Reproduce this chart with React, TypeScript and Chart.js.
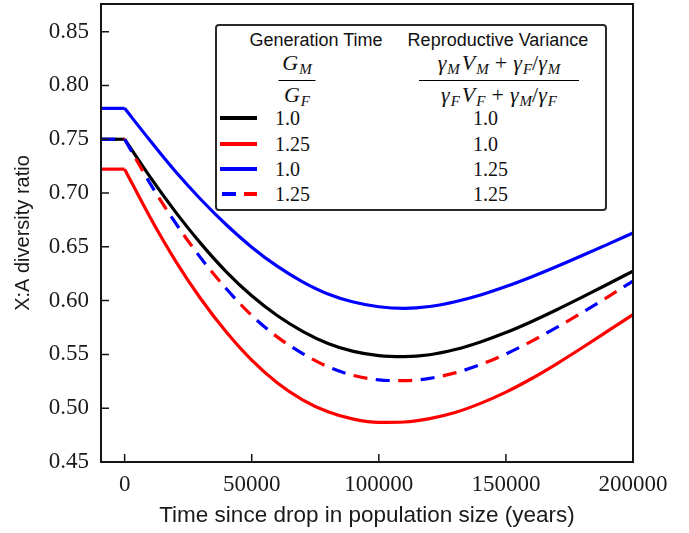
import React, { useEffect, useRef } from "react";
import { Chart, registerables } from "chart.js";
Chart.register(...registerables);

// Time since drop (years); first point is the pre-drop level at the left edge
const timeYears = [-9300, 0, 10000, 20000, 30000, 40000, 50000, 60000, 70000, 80000, 90000, 100000, 110000, 120000, 130000, 140000, 150000, 160000, 170000, 180000, 190000, 200000];
const xTickValues = [0, 50000, 100000, 150000, 200000];
const yTickValues = [0.45, 0.5, 0.55, 0.6, 0.65, 0.7, 0.75, 0.8, 0.85];

// G ratio 1.0, V ratio 1.0
const seriesBlack = [0.75, 0.75, 0.715, 0.6825, 0.653, 0.6268, 0.6045, 0.5862, 0.5715, 0.5602, 0.5528, 0.5489, 0.548, 0.5497, 0.5545, 0.5616, 0.5703, 0.5804, 0.5915, 0.6032, 0.6152, 0.6274];
// G ratio 1.25, V ratio 1.0
const seriesRed = [0.7222, 0.7222, 0.6775, 0.637, 0.6015, 0.5708, 0.5447, 0.5237, 0.5078, 0.4966, 0.4898, 0.4868, 0.4872, 0.4903, 0.496, 0.5045, 0.515, 0.5274, 0.5413, 0.5562, 0.5716, 0.5871];
// G ratio 1.0, V ratio 1.25
const seriesBlue = [0.7787, 0.7787, 0.7488, 0.72, 0.694, 0.6705, 0.6497, 0.632, 0.6175, 0.6062, 0.5987, 0.5943, 0.5928, 0.5945, 0.599, 0.6053, 0.6131, 0.622, 0.6317, 0.6419, 0.6523, 0.6629];
// G ratio 1.25, V ratio 1.25 (dashed blue/red)
const seriesDashed = [0.75, 0.75, 0.709, 0.6722, 0.6395, 0.611, 0.5862, 0.5663, 0.5508, 0.5385, 0.5305, 0.5264, 0.5256, 0.5278, 0.5328, 0.5405, 0.5504, 0.5621, 0.5751, 0.5889, 0.6033, 0.6182];

const legendGen = ["1.0", "1.25", "1.0", "1.25"];
const legendVar = ["1.0", "1.0", "1.25", "1.25"];

const X_MIN = -9300;
const X_MAX = 200000;
const Y_MIN = 0.45;
const Y_MAX = 0.8757;

const pts = (arr: number[], from: number, to: number) =>
  timeYears.slice(from, to).map((x, i) => ({ x, y: arr[from + i] }));

function makeCurve(arr: number[], color: string, extra: any = {}, order = 1) {
  return [
    { data: pts(arr, 0, 2), borderColor: color, borderWidth: 3.2, pointRadius: 0, tension: 0, order, ...extra },
    { data: pts(arr, 1, arr.length), borderColor: color, borderWidth: 3.2, pointRadius: 0, cubicInterpolationMode: "monotone", order, ...extra },
  ];
}

const framePlugin = {
  id: "frame",
  afterDatasetsDraw(chart: any) {
    const { ctx, chartArea, scales } = chart;
    const { left, right, top, bottom } = chartArea;
    ctx.save();
    ctx.strokeStyle = "#151515";
    ctx.lineWidth = 1.5;
    ctx.beginPath();
    scales.x.ticks.forEach((t: any) => {
      const px = scales.x.getPixelForValue(t.value);
      ctx.moveTo(px, bottom);
      ctx.lineTo(px, bottom - 8);
    });
    scales.y.ticks.forEach((t: any) => {
      const py = scales.y.getPixelForValue(t.value);
      ctx.moveTo(left, py);
      ctx.lineTo(left + 8, py);
    });
    ctx.stroke();
    ctx.lineWidth = 2;
    ctx.strokeRect(left, top, right - left, bottom - top);
    ctx.restore();
  },
};

const mathFont = "'Liberation Serif', serif";
const sub = (s: string) => (
  <span style={{ fontSize: 15, fontStyle: "italic", position: "relative", top: 4, marginLeft: 1 }}>{s}</span>
);
const it = (s: string) => <span style={{ fontStyle: "italic" }}>{s}</span>;

function Frac({ num, den, width }: { num: any; den: any; width: number }) {
  return (
    <div style={{ display: "flex", flexDirection: "column", alignItems: "center", fontFamily: mathFont, fontSize: 22, lineHeight: "22px", whiteSpace: "nowrap" }}>
      <div>{num}</div>
      <div style={{ width, borderTop: "1.5px solid #000", margin: "4px 0 3px 0" }} />
      <div>{den}</div>
    </div>
  );
}

const sampleColors = ["#000000", "#ff0000", "#0000ff"];

export default function App() {
  const canvasRef = useRef<HTMLCanvasElement | null>(null);

  useEffect(() => {
    const canvas = canvasRef.current!;
    const datasets: any[] = [
      ...makeCurve(seriesDashed, "#0000ff", { borderDash: [14, 31], borderDashOffset: 0 }, 0),
      ...makeCurve(seriesDashed, "#ff0000", { borderDash: [14, 31], borderDashOffset: 22.5 }, 0),
      ...makeCurve(seriesBlack, "#000000"),
      ...makeCurve(seriesRed, "#ff0000"),
      ...makeCurve(seriesBlue, "#0000ff"),
    ];
    const chart = new Chart(canvas, {
      type: "line",
      data: { datasets },
      plugins: [framePlugin],
      options: {
        responsive: false,
        animation: false,
        devicePixelRatio: 1,
        layout: { padding: { left: 0, right: 56, top: 4, bottom: 0 } },
        plugins: { legend: { display: false }, tooltip: { enabled: false } },
        scales: {
          x: {
            type: "linear",
            min: X_MIN,
            max: X_MAX,
            grid: { display: false, drawTicks: false },
            border: { display: false },
            afterBuildTicks: (s: any) => {
              s.ticks = xTickValues.map((v) => ({ value: v }));
            },
            afterFit: (s: any) => {
              s.height = 71;
              s.paddingLeft = 0;
              s.paddingRight = 0;
            },
            ticks: {
              padding: 9,
              color: "#1a1a1a",
              font: { family: "'Liberation Serif', serif", size: 23 },
              maxRotation: 0,
              autoSkip: false,
              callback: (v: any) => String(v),
            },
            title: {
              display: true,
              text: "Time since drop in population size (years)",
              color: "#1a1a1a",
              font: { family: "'Liberation Sans', sans-serif", size: 22.5 },
              padding: { top: 0, bottom: 4 },
            },
          },
          y: {
            type: "linear",
            min: Y_MIN,
            max: Y_MAX,
            grid: { display: false, drawTicks: false },
            border: { display: false },
            afterBuildTicks: (s: any) => {
              s.ticks = yTickValues.map((v) => ({ value: v }));
            },
            afterFit: (s: any) => {
              s.width = 101;
              s.paddingTop = 0;
              s.paddingBottom = 0;
            },
            ticks: {
              padding: 12,
              color: "#1a1a1a",
              font: { family: "'Liberation Serif', serif", size: 23 },
              autoSkip: false,
              callback: (v: any) => Number(v).toFixed(2),
            },
            title: {
              display: true,
              text: "X:A diversity ratio",
              color: "#1a1a1a",
              font: { family: "'Liberation Sans', sans-serif", size: 20 },
              padding: { top: 11, bottom: 0 },
            },
          },
        },
      },
    });
    return () => chart.destroy();
  }, []);

  const rowY = [94, 120, 145, 170];

  return (
    <div style={{ position: "absolute", left: 0, top: 0, width: 689, height: 533, background: "#fff" }}>
      <canvas ref={canvasRef} width={689} height={533} style={{ position: "absolute", left: 0, top: 0, width: 689, height: 533 }} />
      <div
        style={{
          position: "absolute",
          left: 215,
          top: 24,
          width: 392,
          height: 187,
          boxSizing: "border-box",
          border: "2px solid #2a2a2a",
          borderRadius: 4,
          background: "#fff",
          color: "#111",
        }}
      >
        <div style={{ position: "absolute", left: 101 - 2, top: 16 - 2, transform: "translate(-50%,-50%)", fontFamily: "'Liberation Sans', sans-serif", fontSize: 18, whiteSpace: "nowrap" }}>
          Generation Time
        </div>
        <div style={{ position: "absolute", left: 283 - 2, top: 16 - 2, transform: "translate(-50%,-50%)", fontFamily: "'Liberation Sans', sans-serif", fontSize: 18, whiteSpace: "nowrap" }}>
          Reproductive Variance
        </div>
        <div style={{ position: "absolute", left: 82 - 2, top: 56 - 2, transform: "translate(-50%,-50%)" }}>
          <Frac width={37} num={<span>{it("G")}{sub("M")}</span>} den={<span>{it("G")}{sub("F")}</span>} />
        </div>
        <div style={{ position: "absolute", left: 284 - 2, top: 56 - 2, transform: "translate(-50%,-50%)" }}>
          <Frac
            width={160}
            num={
              <span>
                {it("γ")}{sub("M")}
                <span style={{ marginLeft: 2 }}>{it("V")}</span>{sub("M")}
                <span style={{ margin: "0 6px" }}>+</span>
                {it("γ")}{sub("F")}/{it("γ")}{sub("M")}
              </span>
            }
            den={
              <span>
                {it("γ")}{sub("F")}
                <span style={{ marginLeft: 2 }}>{it("V")}</span>{sub("F")}
                <span style={{ margin: "0 6px" }}>+</span>
                {it("γ")}{sub("M")}/{it("γ")}{sub("F")}
              </span>
            }
          />
        </div>
        {rowY.map((y, i) => (
          <React.Fragment key={i}>
            {i < 3 ? (
              <div style={{ position: "absolute", left: 5 - 2, top: y - 2 - 2, width: 37, height: 4, background: sampleColors[i] }} />
            ) : (
              <>
                <div style={{ position: "absolute", left: 7 - 2, top: y - 2 - 2, width: 14, height: 4, background: "#0000ff" }} />
                <div style={{ position: "absolute", left: 29 - 2, top: y - 2 - 2, width: 13, height: 4, background: "#ff0000" }} />
              </>
            )}
            <div style={{ position: "absolute", left: 60 - 2, top: y - 2, transform: "translateY(-50%)", fontFamily: "'Liberation Serif', serif", fontSize: 20, whiteSpace: "nowrap" }}>
              {legendGen[i]}
            </div>
            <div style={{ position: "absolute", left: 258 - 2, top: y - 2, transform: "translateY(-50%)", fontFamily: "'Liberation Serif', serif", fontSize: 20, whiteSpace: "nowrap" }}>
              {legendVar[i]}
            </div>
          </React.Fragment>
        ))}
      </div>
    </div>
  );
}
